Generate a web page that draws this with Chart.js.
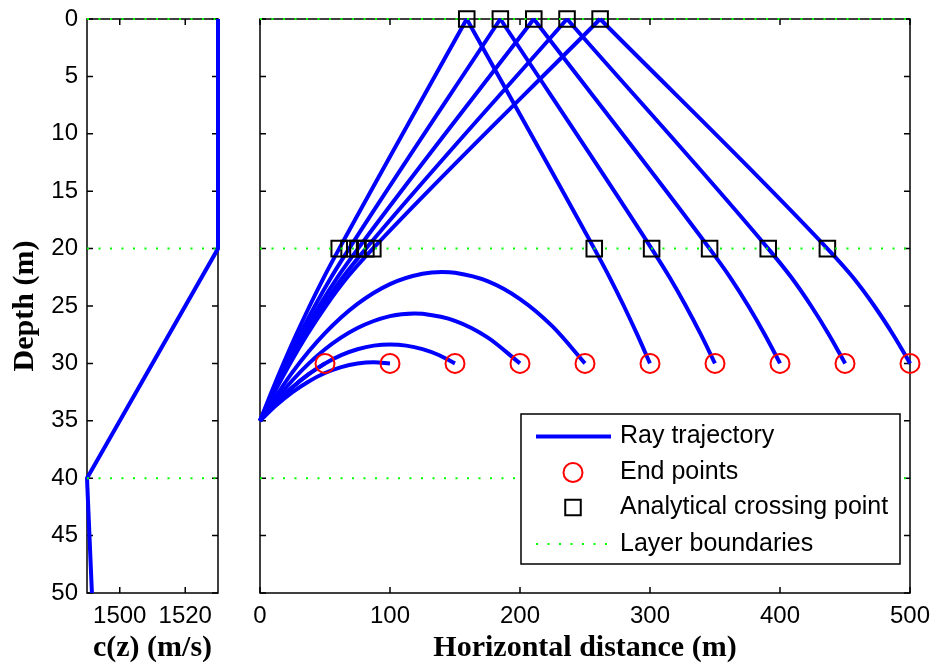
<!DOCTYPE html>
<html><head><meta charset="utf-8">
<script src="https://cdn.jsdelivr.net/npm/chart.js@4.4.1/dist/chart.umd.min.js"></script>
<style>
html,body{margin:0;padding:0;background:#fff;}
#wrap{position:relative;width:932px;height:664px;overflow:hidden;background:#fff;}
#left{position:absolute;left:0;top:0;}
#right{position:absolute;left:240px;top:0;}
</style></head><body>
<div id="wrap">
<canvas id="left" width="240" height="664"></canvas>
<canvas id="right" width="692" height="664"></canvas>
</div>
<script>
// ---------- data ----------
const depthTicks = [0, 5, 10, 15, 20, 25, 30, 35, 40, 45, 50];
const distTicks = [0, 100, 200, 300, 400, 500];
const speedTicks = [1500, 1520];

const profileDepth = [0, 20, 40, 50];
const profileSpeed = [1530, 1530, 1490, 1491.5];

const layerDepths = [0, 20, 40];

// refracted rays (stay in the gradient layer)
const ray50x  = [0, 12.5, 25, 37.5, 50];
const ray50z  = [35, 33.44, 32.08, 30.94, 30.00];
const ray100x = [0, 12.5, 25, 37.5, 50, 62.5, 75, 87.6, 100];
const ray100z = [35, 33.65, 32.50, 31.57, 30.84, 30.32, 30.01, 29.90, 30.00];
const ray150x = [0, 12.5, 25, 37.5, 50, 62.5, 75, 87.5, 100, 112.5, 125, 137.5, 150];
const ray150z = [35, 33.44, 32.08, 30.94, 30.01, 29.28, 28.77, 28.45, 28.35, 28.45, 28.76, 29.27, 30.00];
const ray200x = [0, 25, 50, 75, 100, 118.8, 125, 150, 175, 200];
const ray200z = [35, 31.47, 28.77, 26.92, 25.88, 25.65, 25.68, 26.29, 27.73, 30.00];
const ray250x = [0, 25, 50, 75, 100, 125, 140, 150, 175, 200, 225, 250];
const ray250z = [35, 30.76, 27.37, 24.82, 23.09, 22.19, 22.04, 22.11, 22.84, 24.40, 26.78, 30.00];
// surface-reflected rays (the 0 depth entry is the surface bounce)
const ray300x = [0, 8.84, 18.10, 27.85, 38.16, 49.14, 60.94, 159.03, 257.12, 268.92, 279.90, 290.21, 299.96];
const ray300z = [35, 32.5, 30, 27.5, 25, 22.5, 20, 0, 20, 22.5, 25, 27.5, 30];
const ray350x = [0, 9.62, 19.79, 30.60, 42.19, 54.75, 68.54, 184.89, 301.24, 315.03, 327.59, 339.18, 349.99];
const ray350z = [35, 32.5, 30, 27.5, 25, 22.5, 20, 0, 20, 22.5, 25, 27.5, 30];
const ray400x = [0, 10.25, 21.16, 32.87, 45.58, 59.59, 75.38, 210.61, 345.84, 361.63, 375.64, 388.35, 400.06];
const ray400z = [35, 32.5, 30, 27.5, 25, 22.5, 20, 0, 20, 22.5, 25, 27.5, 30];
const ray450x = [0, 10.74, 22.25, 34.70, 48.38, 63.70, 81.43, 236.18, 390.93, 408.66, 423.98, 437.66, 450.11];
const ray450z = [35, 32.5, 30, 27.5, 25, 22.5, 20, 0, 20, 22.5, 25, 27.5, 30];
const ray500x = [0, 11.13, 23.12, 36.19, 50.68, 67.17, 86.79, 261.62, 436.45, 456.07, 472.56, 487.05, 500.12];
const ray500z = [35, 32.5, 30, 27.5, 25, 22.5, 20, 0, 20, 22.5, 25, 27.5, 30];

const endX = [50, 100, 150, 200, 250, 300, 350, 400, 450, 500];
const endZ = [30, 30, 30, 30, 30, 30, 30, 30, 30, 30];

const crossX = [159.03, 184.89, 210.61, 236.18, 261.62, 60.94, 68.54, 75.38, 81.43, 86.79, 257.12, 301.24, 345.84, 390.93, 436.45];
const crossZ = [0, 0, 0, 0, 0, 20, 20, 20, 20, 20, 20, 20, 20, 20, 20];

const legendLabels = ['Ray trajectory', 'End points', 'Analytical crossing point', 'Layer boundaries'];

// ---------- styling ----------
const BLUE = '#0000ff', RED = '#ff0000', GREEN = '#00ff00';
const SANS = '"Liberation Sans", Arial, sans-serif';
const SERIF = '"Liberation Serif", "Times New Roman", serif';
Chart.defaults.color = '#000';
Chart.defaults.font.family = SANS;

const pts = (xs, zs) => xs.map((v, i) => ({x: v, y: zs[i]}));

const framePlugin = {
  id: 'frame',
  beforeDatasetsDraw(chart) {
    const {ctx, chartArea: a, scales} = chart;
    ctx.save();
    ctx.strokeStyle = '#000';
    ctx.lineWidth = 1.5;
    ctx.strokeRect(a.left, a.top, a.right - a.left, a.bottom - a.top);
    const L = 6;
    ctx.beginPath();
    scales.x.ticks.forEach(t => {
      const p = scales.x.getPixelForValue(t.value);
      ctx.moveTo(p, a.bottom); ctx.lineTo(p, a.bottom - L);
      ctx.moveTo(p, a.top); ctx.lineTo(p, a.top + L);
    });
    scales.y.ticks.forEach(t => {
      const p = scales.y.getPixelForValue(t.value);
      ctx.moveTo(a.left, p); ctx.lineTo(a.left + L, p);
      ctx.moveTo(a.right, p); ctx.lineTo(a.right - L, p);
    });
    ctx.stroke();
    ctx.restore();
  }
};

const legendPlugin = {
  id: 'boxLegend',
  afterDraw(chart) {
    const ctx = chart.ctx;
    const bx = 281, by = 414, bw = 379, bh = 150;
    const rows = [436.5, 472.5, 507.5, 544];
    const sx0 = 296, sx1 = 371, mx = 333, tx = 380;
    ctx.save();
    ctx.fillStyle = '#fff';
    ctx.fillRect(bx, by, bw, bh);
    ctx.strokeStyle = '#000'; ctx.lineWidth = 1.5;
    ctx.strokeRect(bx, by, bw, bh);
    ctx.strokeStyle = BLUE; ctx.lineWidth = 4;
    ctx.beginPath(); ctx.moveTo(sx0, rows[0]); ctx.lineTo(sx1, rows[0]); ctx.stroke();
    ctx.strokeStyle = RED; ctx.lineWidth = 2;
    ctx.beginPath(); ctx.arc(mx, rows[1], 9.5, 0, Math.PI * 2); ctx.stroke();
    ctx.strokeStyle = '#000'; ctx.lineWidth = 2;
    ctx.strokeRect(mx - 7.75, rows[2] - 7.75, 15.5, 15.5);
    ctx.strokeStyle = GREEN; ctx.lineWidth = 2; ctx.setLineDash([2, 9.5]);
    ctx.beginPath(); ctx.moveTo(sx0, rows[3]); ctx.lineTo(sx1, rows[3]); ctx.stroke();
    ctx.setLineDash([]);
    ctx.fillStyle = '#000';
    ctx.font = '25px ' + SANS;
    ctx.textBaseline = 'middle';
    legendLabels.forEach((t, i) => ctx.fillText(t, tx, rows[i]));
    ctx.restore();
  }
};

const tickFont = {family: SANS, size: 24};
const titleFont = {family: SERIF, size: 30, weight: 'bold', lineHeight: 1};
const plain = v => String(v);
const noPad = s => { s.paddingLeft = 0; s.paddingRight = 0; s.paddingTop = 0; s.paddingBottom = 0; };

// ---------- left panel: sound speed profile ----------
const leftDatasets = [];
layerDepths.forEach(d => leftDatasets.push({
  label: legendLabels[3], data: [{x: 1490, y: d}, {x: 1530, y: d}],
  showLine: true, borderColor: GREEN, borderWidth: 2, borderDash: [2, 9.5],
  pointRadius: 0, clip: false, order: 0
}));
leftDatasets.push({
  label: 'c(z)', data: pts(profileSpeed, profileDepth),
  showLine: true, borderColor: BLUE, borderWidth: 4, pointRadius: 0, clip: false, order: 1
});

new Chart(document.getElementById('left'), {
  type: 'scatter',
  data: {datasets: leftDatasets},
  options: {
    responsive: false, animation: false, devicePixelRatio: 1,
    layout: {autoPadding: false, padding: {top: 19, right: 22, bottom: 0, left: 0}},
    plugins: {legend: {display: false}, tooltip: {enabled: false}},
    scales: {
      x: {
        type: 'linear', min: 1490, max: 1530,
        afterBuildTicks: s => { s.ticks = speedTicks.map(v => ({value: v})); },
        afterFit: s => { s.height = 71; noPad(s); },
        grid: {display: false, drawTicks: false}, border: {display: false},
        ticks: {font: tickFont, padding: 9, maxRotation: 0, callback: plain},
        title: {display: true, text: 'c(z) (m/s)', font: titleFont, padding: {top: 0, bottom: 1}}
      },
      y: {
        type: 'linear', reverse: true, min: 0, max: 50,
        afterBuildTicks: s => { s.ticks = depthTicks.map(v => ({value: v})); },
        afterFit: s => { s.width = 87; noPad(s); },
        grid: {display: false, drawTicks: false}, border: {display: false},
        ticks: {font: tickFont, padding: 9, callback: plain},
        title: {display: true, text: 'Depth (m)', font: titleFont, padding: {top: 10, bottom: 0}}
      }
    }
  },
  plugins: [framePlugin]
});

// ---------- right panel: rays ----------
const rightDatasets = [];
layerDepths.forEach(d => rightDatasets.push({
  label: legendLabels[3], data: [{x: 0, y: d}, {x: 500, y: d}],
  showLine: true, borderColor: GREEN, borderWidth: 2, borderDash: [2, 9.5],
  pointRadius: 0, clip: false, order: 0
}));
rightDatasets.push({
  label: legendLabels[2], data: pts(crossX, crossZ), showLine: false,
  pointStyle: 'rect', pointRadius: 11, borderColor: '#000', borderWidth: 2,
  backgroundColor: 'rgba(0,0,0,0)', clip: false, order: 1
});
rightDatasets.push({
  label: legendLabels[1], data: pts(endX, endZ), showLine: false,
  pointStyle: 'circle', pointRadius: 9.5, borderColor: RED, borderWidth: 2,
  backgroundColor: 'rgba(0,0,0,0)', clip: false, order: 2
});
const refracted = [[ray50x, ray50z], [ray100x, ray100z], [ray150x, ray150z], [ray200x, ray200z], [ray250x, ray250z]];
const reflected = [[ray300x, ray300z], [ray350x, ray350z], [ray400x, ray400z], [ray450x, ray450z], [ray500x, ray500z]];
const rayStyle = {
  label: legendLabels[0], showLine: true, borderColor: BLUE, borderWidth: 4,
  pointRadius: 0, cubicInterpolationMode: 'monotone', clip: false, order: 3
};
refracted.forEach(r => rightDatasets.push(Object.assign({data: pts(r[0], r[1])}, rayStyle)));
reflected.forEach(r => {
  const all = pts(r[0], r[1]);
  const k = r[1].indexOf(0);   // surface bounce
  rightDatasets.push(Object.assign({data: all.slice(0, k + 1)}, rayStyle));
  rightDatasets.push(Object.assign({data: all.slice(k)}, rayStyle));
});

new Chart(document.getElementById('right'), {
  type: 'scatter',
  data: {datasets: rightDatasets},
  options: {
    responsive: false, animation: false, devicePixelRatio: 1,
    layout: {autoPadding: false, padding: {top: 19, right: 22, bottom: 0, left: 0}},
    plugins: {legend: {display: false}, tooltip: {enabled: false}},
    scales: {
      x: {
        type: 'linear', min: 0, max: 500,
        afterBuildTicks: s => { s.ticks = distTicks.map(v => ({value: v})); },
        afterFit: s => { s.height = 71; noPad(s); },
        grid: {display: false, drawTicks: false}, border: {display: false},
        ticks: {font: tickFont, padding: 9, maxRotation: 0, callback: plain},
        title: {display: true, text: 'Horizontal distance (m)', font: titleFont, padding: {top: 0, bottom: 1}}
      },
      y: {
        type: 'linear', reverse: true, min: 0, max: 50,
        afterBuildTicks: s => { s.ticks = depthTicks.map(v => ({value: v})); },
        afterFit: s => { s.width = 20; noPad(s); },
        grid: {display: false, drawTicks: false}, border: {display: false},
        ticks: {display: false}
      }
    }
  },
  plugins: [framePlugin, legendPlugin]
});
</script>
</body></html>
